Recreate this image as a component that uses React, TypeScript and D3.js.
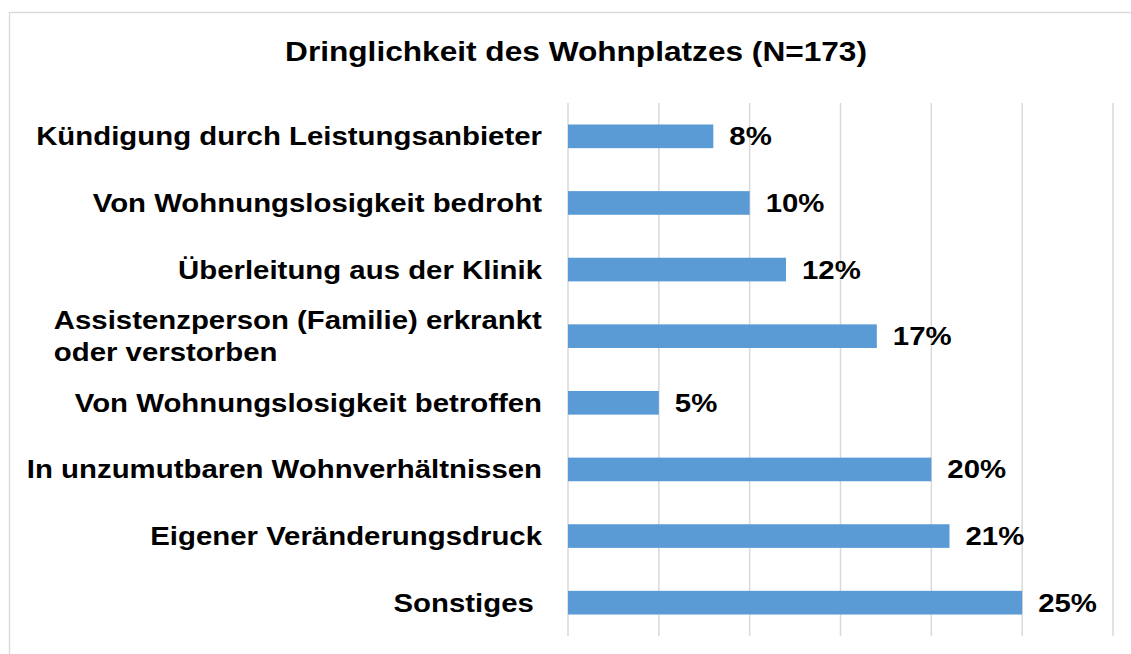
import React, { useMemo } from "react";
import * as d3 from "d3";

const title = "Dringlichkeit des Wohnplatzes (N=173)";
const categories = [
  "Kündigung durch Leistungsanbieter",
  "Von Wohnungslosigkeit bedroht",
  "Überleitung aus der Klinik",
  "Assistenzperson (Familie) erkrankt\noder verstorben",
  "Von Wohnungslosigkeit betroffen",
  "In unzumutbaren Wohnverhältnissen",
  "Eigener Veränderungsdruck",
  "Sonstiges ",
];
const values = [8, 10, 12, 17, 5, 20, 21, 25];
const xTicks = [0, 5, 10, 15, 20, 25, 30];

const W = 1131;
const H = 654;
const FONT = "'Liberation Sans', Arial, Helvetica, sans-serif";
const SX = 1.13;
const LABEL_SIZE = 26;
const TITLE_SIZE = 28;
const BAR_COLOR = "#5b9bd5";
const GRID_COLOR = "#d9d9d9";

let ctx: CanvasRenderingContext2D | null = null;
function measure(text: string, size: number) {
  if (!ctx) ctx = document.createElement("canvas").getContext("2d");
  if (!ctx) return text.length * size * 0.6;
  ctx.font = `bold ${size}px ${FONT}`;
  return ctx.measureText(text).width;
}

export default function App() {
  const x = useMemo(() => d3.scaleLinear().domain([0, 30]).range([568, 1113]), []);
  const y = useMemo(
    () =>
      d3
        .scaleBand<string>()
        .domain(categories)
        .range([103, 636])
        .paddingInner(0.645)
        .paddingOuter(0.3225),
    []
  );
  const labelRight = 542;
  const lineGap = 32;

  return (
    <div style={{ position: "absolute", left: 0, top: 0 }}>
      <svg width={W} height={H} style={{ display: "block", background: "#fff" }}>
        <rect x={9.5} y={12.5} width={W + 20} height={H + 20} fill="#fff" stroke={GRID_COLOR} strokeWidth={1.3} />
        <text
          transform={`translate(${576},${61}) scale(${SX},1)`}
          textAnchor="middle"
          fontFamily={FONT}
          fontWeight="bold"
          fontSize={TITLE_SIZE}
          fill="#000"
        >
          {title}
        </text>
        {xTicks.map((t) => (
          <line key={t} x1={x(t)} x2={x(t)} y1={103} y2={636} stroke={GRID_COLOR} strokeWidth={1.5} />
        ))}
        {categories.map((c, i) => {
          const yc = (y(c) as number) + y.bandwidth() / 2;
          const v = values[i];
          const lines = c.split("\n");
          let labelEl;
          if (lines.length === 1) {
            labelEl = (
              <text
                transform={`translate(${labelRight},${yc + 9}) scale(${SX},1)`}
                textAnchor="end"
                fontFamily={FONT}
                fontWeight="bold"
                fontSize={LABEL_SIZE}
                fill="#000"
                style={{ whiteSpace: "pre" }}
              >
                {c}
              </text>
            );
          } else {
            const maxW = Math.max(...lines.map((l) => measure(l, LABEL_SIZE))) * SX;
            const startX = labelRight - maxW;
            const first = yc + 9 - ((lines.length - 1) * lineGap) / 2;
            labelEl = (
              <g>
                {lines.map((l, k) => (
                  <text
                    key={k}
                    transform={`translate(${startX},${first + k * lineGap}) scale(${SX},1)`}
                    textAnchor="start"
                    fontFamily={FONT}
                    fontWeight="bold"
                    fontSize={LABEL_SIZE}
                    fill="#000"
                  >
                    {l}
                  </text>
                ))}
              </g>
            );
          }
          return (
            <g key={c}>
              <rect x={x(0)} y={y(c)} width={x(v) - x(0)} height={y.bandwidth()} fill={BAR_COLOR} />
              {labelEl}
              <text
                transform={`translate(${x(v) + 16},${yc + 9}) scale(${SX},1)`}
                textAnchor="start"
                fontFamily={FONT}
                fontWeight="bold"
                fontSize={LABEL_SIZE}
                fill="#000"
              >
                {`${v}%`}
              </text>
            </g>
          );
        })}
      </svg>
    </div>
  );
}
